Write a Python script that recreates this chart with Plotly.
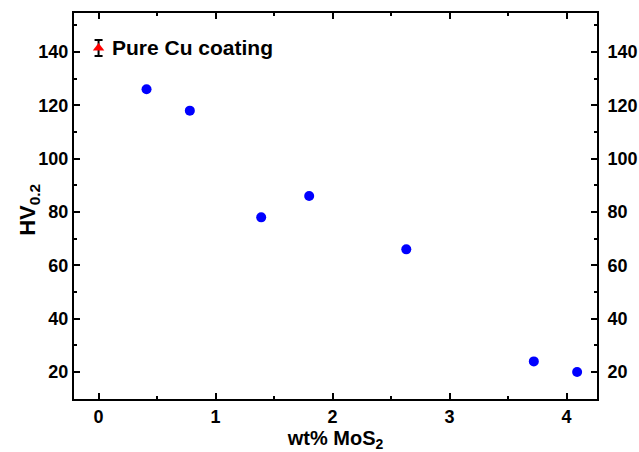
import plotly.graph_objects as go

wt_mos2 = [0.41, 0.78, 1.39, 1.80, 2.63, 3.72, 4.09]
hv = [126, 118, 78, 86, 66, 24, 20]
pure_x = [0]
pure_hv = [141.5]
pure_err = [3]
x_ticks = [0, 1, 2, 3, 4]
y_ticks = [20, 40, 60, 80, 100, 120, 140]

font = dict(family="Liberation Sans", color="black")
tickfont = dict(family="Liberation Sans", size=18, color="black", weight="bold")

fig = go.Figure()
fig.add_trace(go.Scatter(x=wt_mos2, y=hv, mode="markers",
                         marker=dict(color="#0000ff", size=10, symbol="circle"),
                         showlegend=False))
fig.add_trace(go.Scatter(x=pure_x, y=pure_hv, mode="markers",
                         marker=dict(color="#ff0000", size=10, symbol="triangle-up"),
                         error_y=dict(type="data", array=pure_err, color="black", thickness=2, width=4),
                         showlegend=False))
fig.add_annotation(x=0.1, y=pure_hv[0], xref="x", yref="y", xanchor="left", yanchor="middle",
                   text="<b>Pure Cu coating</b>", showarrow=False,
                   font=dict(family="Liberation Sans", size=21, color="black"))
fig.add_annotation(x=0, y=0.49, xref="paper", yref="paper", xshift=-45, xanchor="center", yanchor="middle",
                   text="<b>HV<sub>0.2</sub></b>", showarrow=False, textangle=-90,
                   font=dict(family="Liberation Sans", size=22, color="black"))

axis_common = dict(showline=True, linecolor="black", linewidth=2, mirror="ticks",
                   ticks="inside", ticklen=6, tickwidth=2, tickcolor="black",
                   showgrid=False, zeroline=False, automargin=False,
                   tickfont=tickfont)

fig.update_xaxes(range=[-0.21, 4.26], tickvals=x_ticks,
                 minor=dict(dtick=0.5, ticks="inside", ticklen=3, tickwidth=2, tickcolor="black"),
                 title=dict(text="<b>wt% MoS<sub>2</sub></b>", font=dict(family="Liberation Sans", size=20, color="black"), standoff=6),
                 **axis_common)
fig.update_yaxes(range=[9.9, 154.6], tickvals=y_ticks,
                 minor=dict(dtick=10, ticks="inside", ticklen=3, tickwidth=2, tickcolor="black"),
                 **axis_common)

fig.update_layout(
    yaxis2=dict(overlaying="y", side="right", range=[9.9, 154.6], tickvals=y_ticks,
                showline=False, ticks="outside", ticklen=6, tickcolor="rgba(0,0,0,0)",
                showgrid=False, zeroline=False, automargin=False,
                tickfont=tickfont),
)
fig.add_trace(go.Scatter(x=[None], y=[None], yaxis="y2", showlegend=False))

fig.update_layout(width=639, height=452, margin=dict(l=74, r=42, t=13, b=53),
                  plot_bgcolor="white", paper_bgcolor="white", font=font)
fig.write_html("out.html", config={"displayModeBar": False},
               post_script="document.body.style.margin='0px';document.body.style.overflow='hidden';")
